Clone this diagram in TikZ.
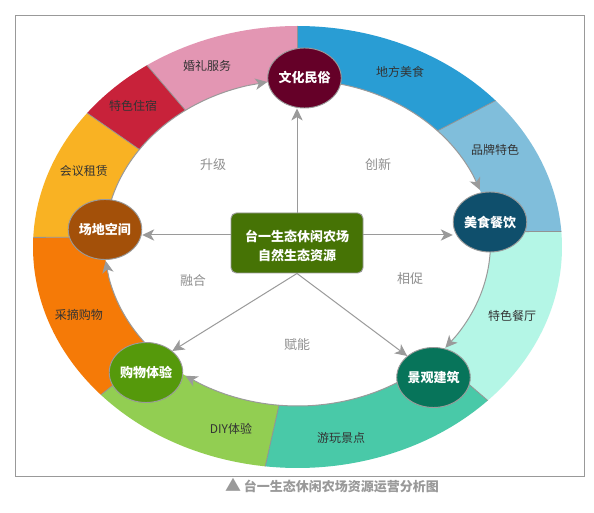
\documentclass[tikz,border=0pt]{standalone}
\usepackage{fontspec}
\setmainfont{Noto Sans CJK SC}
\usetikzlibrary{arrows.meta,shapes.geometric,calc}
\definecolor{pinkseg}{HTML}{E396B3}
\definecolor{redseg}{HTML}{C8223A}
\definecolor{yellowseg}{HTML}{F9B223}
\definecolor{orangeseg}{HTML}{F57A07}
\definecolor{lgreenseg}{HTML}{92CE52}
\definecolor{tealseg}{HTML}{49C9A8}
\definecolor{mintseg}{HTML}{B4F6E6}
\definecolor{lblueseg}{HTML}{80BEDB}
\definecolor{blueseg}{HTML}{299DD4}
\definecolor{cwenhua}{HTML}{650028}
\definecolor{cmeishi}{HTML}{0F4F6C}
\definecolor{cjingguan}{HTML}{07745A}
\definecolor{cgouwu}{HTML}{55990B}
\definecolor{cchangdi}{HTML}{A35009}
\definecolor{cbox}{HTML}{467305}
\definecolor{arrgrey}{HTML}{9A9A9A}
\definecolor{relgrey}{HTML}{8F8F8F}
\definecolor{txtdark}{HTML}{333333}
\definecolor{framegrey}{HTML}{999999}
\newcommand\ringseg[5]{\fill[#1] plot[domain=#2:#3,samples=60,variable=\t]({297.5+264.5*cos(\t)},{247-221*sin(\t)}) -- plot[domain=#5:#4,samples=60,variable=\t]({297.5+193*cos(\t)},{243-163*sin(\t)}) -- cycle;}
\newcommand\ringbound[2]{\draw[bound] ({297.5+264.5*cos(#1)},{247-221*sin(#1)}) -- ({297.5+193*cos(#2)},{243-163*sin(#2)});}
\newcommand\innerarc[2]{\draw[ringline] plot[domain=#1:#2,samples=40,variable=\t]({297.5+193*cos(\t)},{243-163*sin(\t)});}
\newcommand\innertip[2]{\draw[arr] ({297.5+193*cos(#1)},{243-163*sin(#1)}) -- ({297.5+193*cos(#2)},{243-163*sin(#2)});}
\begin{document}
\begin{tikzpicture}[x=0.75pt,y=-0.75pt,
  hub/.style={ellipse, draw=arrgrey, line width=0.7pt, minimum width=54pt, minimum height=45pt, inner sep=0pt, text=white, font=\bfseries\fontsize{9.75}{11}\selectfont},
  segtext/.style={text=txtdark, font=\fontsize{9}{11}\selectfont, inner sep=0pt},
  reltext/.style={text=relgrey, font=\fontsize{9.75}{11}\selectfont, inner sep=0pt},
  arr/.style={draw=arrgrey, line width=0.75pt, -{Stealth[length=9pt,width=8.5pt,inset=2.5pt]}},
  ringline/.style={draw=arrgrey, line width=0.75pt},
  bound/.style={draw=gray!85, line width=0.6pt},
  hubbox/.style={draw=arrgrey, line width=0.7pt, fill=cbox, rounded corners=4pt, minimum width=99pt, minimum height=45pt, text=white, font=\bfseries\fontsize{9.75}{14.5}\selectfont},
  caption/.style={text=framegrey, font=\bfseries\fontsize{9.75}{11}\selectfont, inner sep=0pt}
]
\useasboundingbox (0,0) rectangle (594,513);
\fill[white] (0,0) rectangle (594,513);
\draw[draw=framegrey, line width=0.75pt] (15.5,16) rectangle (584,476.5);

% ring segments
\ringseg{lblueseg}{4}{41.5}{4}{43.5}
\ringseg{blueseg}{41.5}{90}{43.5}{90}
\ringseg{pinkseg}{90}{124.7}{90}{125.5}
\ringseg{redseg}{124.7}{142.7}{125.5}{145}
\ringseg{yellowseg}{142.7}{177.5}{145}{178}
\ringseg{orangeseg}{177.5}{222}{178}{222}
\ringseg{lgreenseg}{222}{263}{222}{264.5}
\ringseg{tealseg}{263}{316}{264.5}{316}
\ringseg{mintseg}{316}{364}{316}{364}
\ringbound{4}{4}
\ringbound{41.5}{43.5}
\ringbound{90}{90}
\ringbound{124.7}{125.5}
\ringbound{142.7}{145}
\ringbound{177.5}{178}
\ringbound{222}{222}
\ringbound{263}{264.5}
\ringbound{316}{316}

% arcs along inner edge
\innerarc{168}{105}
\innertip{105}{99}
\innerarc{80}{24.5}
\innertip{24.5}{19}
\innerarc{0}{-34.8}
\innertip{-34.8}{-40}
\innerarc{305}{239.5}
\innertip{239.5}{234.5}
\innerarc{220}{192}
\innertip{192}{186.3}

% ring labels
\node[segtext] at (207,66) {婚礼服务};
\node[segtext] at (133,106) {特色住宿};
\node[segtext] at (84,171) {会议租赁};
\node[segtext] at (79,315) {采摘购物};
\node[segtext] at (231,429) {DIY体验};
\node[segtext] at (341,438) {游玩景点};
\node[segtext] at (512,316) {特色餐厅};
\node[segtext] at (495,150) {品牌特色};
\node[segtext] at (400,72) {地方美食};

% relation labels
\node[reltext] at (213,165) {升级};
\node[reltext] at (378,165) {创新};
\node[reltext] at (410,279) {相促};
\node[reltext] at (297,345) {赋能};
\node[reltext] at (193,281) {融合};

% hubs
\node[hubbox] (box) at (297,243) {\raisebox{-3pt}[\height][\depth]{\begin{tabular}{@{}c@{}}台一生态休闲农场\\自然生态资源\end{tabular}}};
\node[hub, fill=cwenhua] (wh) at (304.5,78) {文化民俗};
\node[hub, fill=cmeishi] (ms) at (490,222) {美食餐饮};
\node[hub, fill=cjingguan] (jg) at (433.5,377.5) {景观建筑};
\node[hub, fill=cgouwu] (gw) at (146,372.5) {购物体验};
\node[hub, fill=cchangdi] (cd) at (105,229.5) {场地空间};

% connectors
\draw[arr] (box.north) -- (box.north |- wh.south);
\draw[arr] (box.east |- 0,235) -- (ms.west |- 0,235);
\draw[arr] (box.west |- 0,235) -- (cd.east |- 0,235);
\draw[arr] (box.south) -- (gw.north east);
\draw[arr] (box.south) -- (jg.north west);

% caption
\node[caption] at (332,486) {{\fontsize{12}{12}\selectfont ▲}\hspace{2pt}台一生态休闲农场资源运营分析图};
\end{tikzpicture}
\end{document}
